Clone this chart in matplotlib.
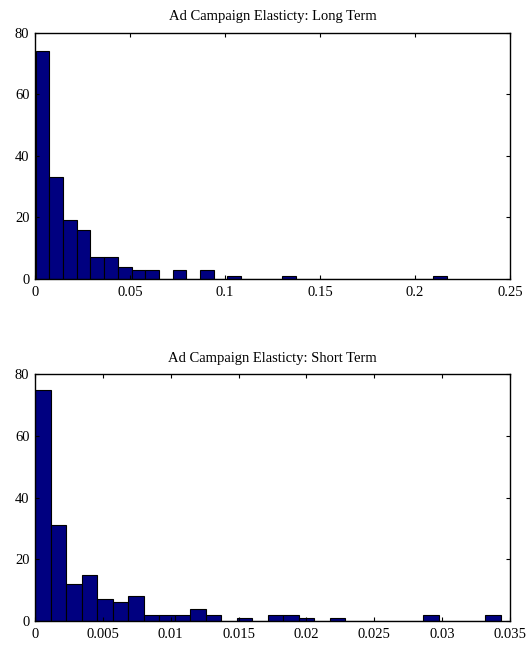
import numpy as np
import matplotlib
matplotlib.use('Agg')
import matplotlib.pyplot as plt
plt.rcParams['font.family'] = 'Liberation Serif'
plt.rcParams['font.size'] = 10.5

# histogram counts (30 bins each)
long_counts = [74, 33, 19, 16, 7, 7, 4, 3, 3, 0, 3, 0, 3, 0, 1,
               0, 0, 0, 1, 0, 0, 0, 0, 0, 0, 0, 0, 0, 0, 1]
long_range = (0.0003, 0.2167)
long_ticks = [0, 0.05, 0.1, 0.15, 0.2, 0.25]
long_labels = ['0', '0.05', '0.1', '0.15', '0.2', '0.25']

short_counts = [75, 31, 12, 15, 7, 6, 8, 2, 2, 2, 4, 2, 0, 1, 0,
                2, 2, 1, 0, 1, 0, 0, 0, 0, 0, 2, 0, 0, 0, 2]
short_range = (0.0, 0.03431)
short_ticks = [0, 0.005, 0.01, 0.015, 0.02, 0.025, 0.03, 0.035]
short_labels = ['0', '0.005', '0.01', '0.015', '0.02', '0.025', '0.03', '0.035']

y_ticks = [0, 20, 40, 60, 80]


def draw(ax, counts, rng, ticks, labels, title):
    edges = np.linspace(rng[0], rng[1], len(counts) + 1)
    ax.bar(edges[:-1], counts, width=np.diff(edges), align='edge',
           color='#000080', edgecolor='black', linewidth=0.8)
    ax.set_xlim(ticks[0], ticks[-1])
    ax.set_ylim(0, 80)
    ax.set_xticks(ticks)
    ax.set_xticklabels(labels)
    ax.set_yticks(y_ticks)
    ax.tick_params(direction='in', length=3, top=True, right=True)
    ax.tick_params(axis='x', pad=5)
    ax.tick_params(axis='y', pad=4)
    for s in ax.spines.values():
        s.set_linewidth(1.0)
    ax.set_title(title, fontsize=10.5, pad=9)


fig = plt.figure(figsize=(5.28, 6.48), dpi=100)
ax1 = fig.add_axes([0.0663, 0.5694, 0.8996, 0.3804])
ax2 = fig.add_axes([0.0663, 0.0417, 0.8996, 0.3804])
draw(ax1, long_counts, long_range, long_ticks, long_labels,
     'Ad Campaign Elasticty: Long Term')
draw(ax2, short_counts, short_range, short_ticks, short_labels,
     'Ad Campaign Elasticty: Short Term')
fig.savefig('out.png', dpi=100)
